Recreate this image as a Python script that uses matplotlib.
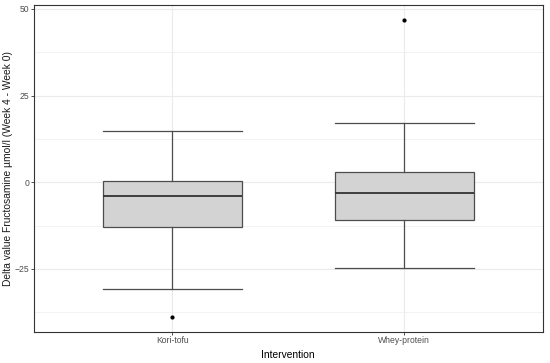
import matplotlib
matplotlib.use("Agg")
import matplotlib.pyplot as plt
from matplotlib.ticker import MultipleLocator

plt.rcParams['font.family'] = ['Liberation Sans', 'DejaVu Sans']

# box statistics
groups = ["Kori-tofu", "Whey-protein"]
whisk_lo = [-30.9, -24.8]
q1 = [-12.9, -11.0]
med = [-3.9, -3.0]
q3 = [0.3, 3.0]
whisk_hi = [14.9, 17.0]
outliers = [[-38.9], [46.8]]

stats = []
for i, g in enumerate(groups):
    stats.append(dict(label=g, whislo=whisk_lo[i], q1=q1[i], med=med[i],
                      q3=q3[i], whishi=whisk_hi[i], fliers=outliers[i]))

fig = plt.figure(figsize=(5.5, 3.63), dpi=100)
ax = fig.add_axes([33.5 / 550, 1 - 332 / 363, (543 - 33.5) / 550, (332 - 5) / 363])

line_c = "#4d4d4d"
ax.bxp(stats, positions=[1, 2], widths=0.6, patch_artist=True,
       boxprops=dict(facecolor="#d3d3d3", edgecolor=line_c, linewidth=0.9),
       medianprops=dict(color="#333333", linewidth=1.3),
       whiskerprops=dict(color=line_c, linewidth=0.9),
       capprops=dict(color=line_c, linewidth=0.9),
       capwidths=0.6,
       flierprops=dict(marker="o", markersize=2.0, markerfacecolor="black",
                       markeredgecolor="black"),
       zorder=3)

ax.set_xlim(0.4, 2.6)
ax.set_ylim(-43.2, 51.1)
ax.yaxis.set_major_locator(MultipleLocator(25))
ax.yaxis.set_minor_locator(MultipleLocator(12.5))
ax.set_xticks([1, 2])
ax.set_xticklabels(groups)

ax.grid(which="major", color="#ebebeb", linewidth=0.8, zorder=0)
ax.grid(which="minor", axis="y", color="#ebebeb", linewidth=0.4, zorder=0)
ax.set_axisbelow(True)
ax.tick_params(which="minor", length=0)
ax.tick_params(which="major", length=2, width=0.6, color="#333333",
               labelsize=6.2, labelcolor="#4d4d4d", pad=1.2)
for s in ax.spines.values():
    s.set_color("#333333")
    s.set_linewidth(0.8)

ax.set_xlabel("Intervention", fontsize=7.4, color="black", labelpad=3)
ax.set_ylabel("Delta value Fructosamine µmol/l (Week 4 - Week 0)", fontsize=7.4,
              color="#1a1a1a", va="center")
ax.yaxis.set_label_coords(-0.05, 0.5)

fig.savefig("out.png", dpi=100)
